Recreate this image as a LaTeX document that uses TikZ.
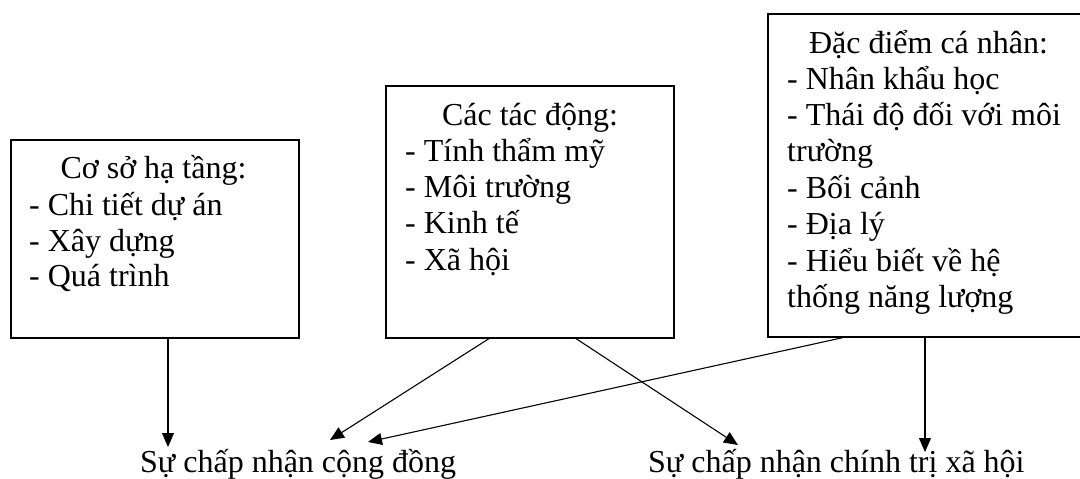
\documentclass[tikz,border=0pt]{standalone}
\usepackage{fontspec}
\setmainfont{Liberation Serif}
\usetikzlibrary{arrows.meta}
\begin{document}
\begin{tikzpicture}[x=1pt,y=-1pt,
  box/.style={draw, line width=1.6pt, minimum width=#1, inner sep=0pt, anchor=north west},
  txt/.style={inner sep=0pt, font=\fontsize{32}{36.3}\selectfont},
  item/.style={txt, anchor=base west},
  head/.style={txt, anchor=base},
  conn/.style={line width=1.1pt, -{Triangle[length=14pt,width=12pt]}}]
\useasboundingbox (0,0) rectangle (1080,479);
% boxes
\node[box=288pt, minimum height=198pt] (b1) at (10,139) {};
\node[box=288pt, minimum height=252pt] (b2) at (385,85) {};
\node[box=330pt, minimum height=323pt] (b3) at (767,13) {};
% box 1 text
\node[head] (h1) at (153.5,178) {Cơ sở hạ tầng:};
\node[item] (b1a) at (29,215) {- Chi tiết dự án};
\node[item] (b1b) at (29,251) {- Xây dựng};
\node[item] (b1c) at (29,286.5) {- Quá trình};
% box 2 text
\node[head] (h2) at (530,125) {Các tác động:};
\node[item] (b2a) at (405,161) {- Tính thẩm mỹ};
\node[item] (b2b) at (405,197) {- Môi trường};
\node[item] (b2c) at (405,233.5) {- Kinh tế};
\node[item] (b2d) at (405,270) {- Xã hội};
% box 3 text
\node[head] (h3) at (928.5,53) {Đặc điểm cá nhân:};
\node[item] (b3a) at (787,89) {- Nhân khẩu học};
\node[item] (b3b) at (787,125) {- Thái độ đối với môi};
\node[item] (b3c) at (787,161) {trường};
\node[item] (b3d) at (787,198) {- Bối cảnh};
\node[item] (b3e) at (787,234) {- Địa lý};
\node[item] (b3f) at (787,271) {- Hiểu biết về hệ};
\node[item] (b3g) at (787,307) {thống năng lượng};
% bottom labels
\node[item] (l1) at (140,472) {Sự chấp nhận cộng đồng};
\node[item] (l2) at (648,472) {Sự chấp nhận chính trị xã hội};
% arrow tips
\coordinate (t1) at (168,447);
\coordinate (t2) at (330,440);
\coordinate (t3) at (368,442);
\coordinate (t4) at (738,445);
\coordinate (t5) at (925,452);
% connectors
\draw[conn] ([xshift=158pt]b1.south west) -- (t1);
\draw[conn] ([xshift=104pt]b2.south west) -- (t2);
\draw[conn] ([xshift=76pt]b3.south west) -- (t3);
\draw[conn] ([xshift=191pt]b2.south west) -- (t4);
\draw[conn] ([xshift=158pt]b3.south west) -- (t5);
\end{tikzpicture}
\end{document}
